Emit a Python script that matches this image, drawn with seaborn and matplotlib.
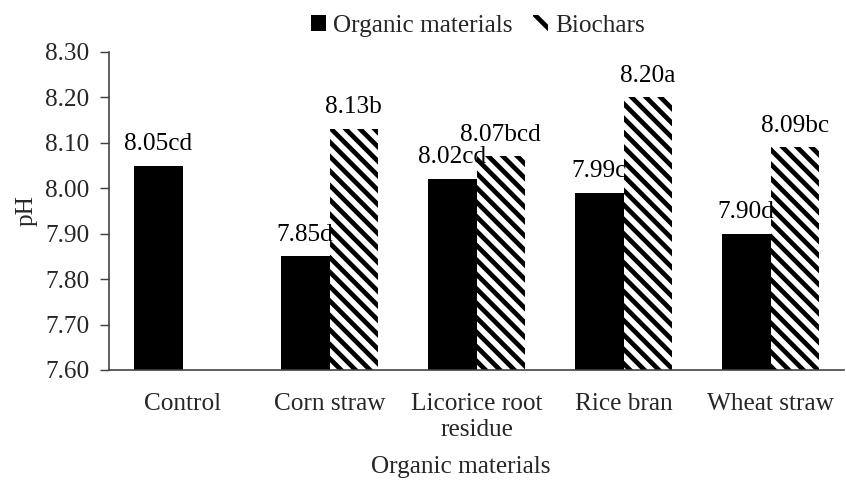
import numpy as np
import pandas as pd
import matplotlib
matplotlib.use("Agg")
import matplotlib.pyplot as plt
from matplotlib.patches import Patch
import seaborn as sns

# ---- data ----
categories = ["Control", "Corn straw", "Licorice root\nresidue", "Rice bran", "Wheat straw"]
organic_values = [8.05, 7.85, 8.02, 7.99, 7.90]
biochar_values = [np.nan, 8.13, 8.07, 8.20, 8.09]
organic_labels = ["8.05cd", "7.85d", "8.02cd", "7.99c", "7.90d"]
biochar_labels = ["", "8.13b", "8.07bcd", "8.20a", "8.09bc"]
series_names = ["Organic materials", "Biochars"]
y_ticks = [7.60, 7.70, 7.80, 7.90, 8.00, 8.10, 8.20, 8.30]

rows = []
for c, v in zip(categories, organic_values):
    rows.append({"Material": c, "pH": v, "Type": series_names[0]})
for c, v in zip(categories, biochar_values):
    if not np.isnan(v):
        rows.append({"Material": c, "pH": v, "Type": series_names[1]})
df = pd.DataFrame(rows)

sns.set_style("white")
FS = 14
plt.rcParams["font.family"] = ["Liberation Serif", "DejaVu Serif"]
plt.rcParams["hatch.linewidth"] = 2.6
plt.rcParams["hatch.color"] = "black"

DPI = 130
fig = plt.figure(figsize=(846 / DPI, 482 / DPI), dpi=DPI)
ax = fig.add_axes([109 / 846, 1 - 370 / 482, (844 - 109) / 846, (370 - 52) / 482])

sns.barplot(data=df, x="Material", y="pH", hue="Type", order=categories,
            hue_order=series_names, palette=["black", "white"], width=0.66,
            legend=False, ax=ax, errorbar=None)

BAR_HATCH = "\\" * 3
# style bars
for p in ax.containers[0]:
    p.set_facecolor("black")
    p.set_edgecolor("black")
    p.set_linewidth(0)
for p in ax.containers[1]:
    p.set_facecolor("white")
    p.set_edgecolor("black")
    p.set_hatch(BAR_HATCH)
    p.set_linewidth(0)

# labels
for cont, labs in zip(ax.containers, [organic_labels, biochar_labels]):
    for p in cont:
        h = p.get_height()
        if np.isnan(h):
            continue
        cx = p.get_x() + p.get_width() / 2
        idx = int(round(cx))
        ax.annotate(labs[idx], (cx, h), xytext=(0, 6), textcoords="offset points",
                    ha="center", va="bottom", fontsize=FS, color="black")

ax.set_ylim(7.60, 8.30)
ax.set_yticks(y_ticks)
ax.set_yticklabels([f"{t:.2f}" for t in y_ticks])
ax.tick_params(axis="y", direction="out", length=5, width=0.8, color="#404040",
               labelsize=FS, pad=6, left=True)
ax.tick_params(axis="x", length=0, labelsize=FS, pad=12.5)
for lab in ax.get_xticklabels():
    lab.set_linespacing(1.27)

for s in ["top", "right"]:
    ax.spines[s].set_visible(False)
for s in ["left", "bottom"]:
    ax.spines[s].set_color("#404040")
    ax.spines[s].set_linewidth(0.9)

ax.set_ylabel("pH", fontsize=FS)
ax.yaxis.set_label_coords(-0.097, 0.5)
ax.set_xlabel("Organic materials", fontsize=FS)
ax.xaxis.set_label_coords(0.479, -0.27)

handles = [Patch(facecolor="black", edgecolor="black", linewidth=0),
           Patch(facecolor="white", edgecolor="black", hatch="\\" * 2, linewidth=0)]
leg = fig.legend(handles, series_names, loc="center", bbox_to_anchor=(478 / 846, 1 - 26 / 482),
                 ncol=2, frameon=False, fontsize=FS, handlelength=0.6, handleheight=0.6,
                 handletextpad=0.3, columnspacing=0.8, borderpad=0)

fig.savefig("out.png", dpi=DPI)
